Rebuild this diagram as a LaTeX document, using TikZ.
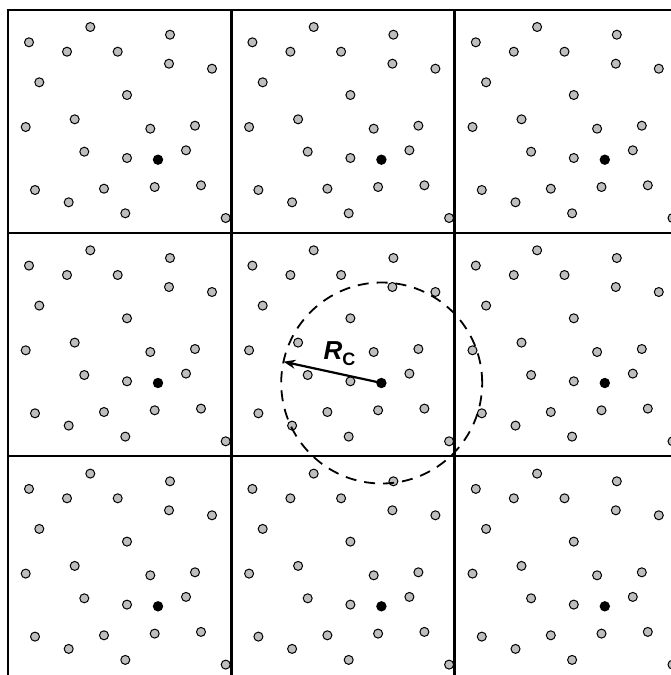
\documentclass[tikz,border=0pt]{standalone}
\usepackage{fontspec}
\setsansfont{Liberation Sans}
\usetikzlibrary{arrows.meta}
\definecolor{dotgray}{RGB}{190,190,190}
\begin{document}
\begin{tikzpicture}[x=1pt,y=-1pt,
  dot/.style={fill=dotgray,draw=black,line width=1pt},
  centerdot/.style={fill=black},
  cellbox/.style={draw=black,line width=1.7pt},
  cutoff/.style={draw=black,line width=1.8pt,dash pattern=on 11pt off 8pt},
  radiusarrow/.style={-{Stealth[length=12pt,width=9pt]},line width=2.2pt},
  lbl/.style={inner sep=0pt,anchor=base west,font=\sffamily\bfseries}]
\useasboundingbox (0,0) rectangle (671,675);
\clip (0,0) rectangle (671,675);
\foreach \i in {0,1,2}{
  \foreach \j in {0,1,2}{
    \begin{scope}[shift={(8+223.4*\i,10+223.3*\j)}]
      \foreach \px/\py in {21/32.3,82.3/17,162/24.7,59/41.7,109.7/41.7,161/53.7,204/58.7,
        31.3/72.3,119/85,17.7/117,66.7/109.3,142.3/118.7,187/115.7,76.3/141.7,119/148,
        178/140.3,27/180,60.7/192.3,96/178.7,146.7/177,193/175.3,117.3/203.3,217.7/208}
        \filldraw[dot] (\px,\py) circle (4.5pt);
      \fill[centerdot] (150,149.7) circle (5.2pt);
      \draw[cellbox] (0.3,0) rectangle (222.8,222.4);
    \end{scope}
  }
}
\coordinate (c) at (381.7,383);
\coordinate (tip) at (283.5,361.7);
\draw[cutoff] (c) circle (100.5pt);
\draw[radiusarrow] (c) -- (tip);
\node[lbl] (rc) at (323.5,359) {\fontsize{26}{26}\selectfont\itshape R\raisebox{-6pt}{\fontsize{18}{18}\selectfont\upshape C}};
\end{tikzpicture}
\end{document}
